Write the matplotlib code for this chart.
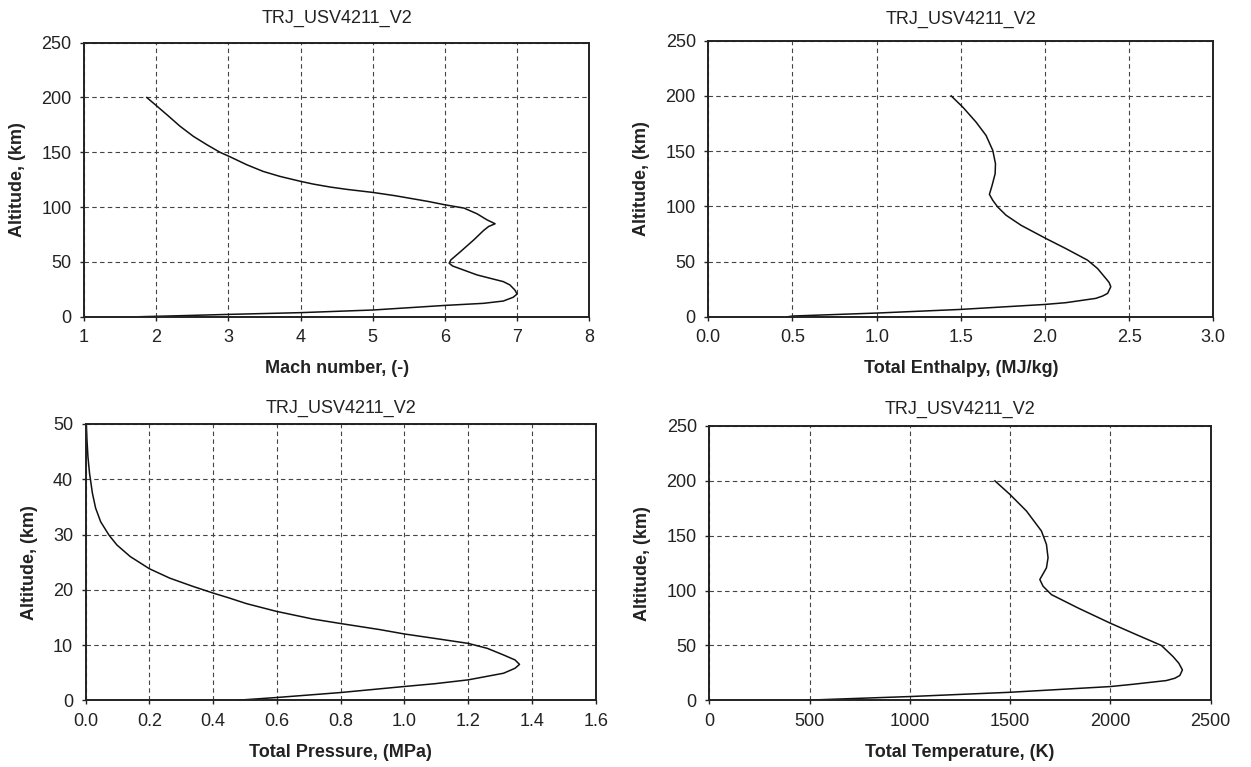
import matplotlib
matplotlib.use("Agg")
import matplotlib.pyplot as plt

plt.rcParams['font.family'] = ['Liberation Sans', 'DejaVu Sans']

title_text = "TRJ_USV4211_V2"
ylabel_text = "Altitude, (km)"

# Panel 1: Mach number vs altitude
mach_val = [1.87, 2.00, 2.145, 2.33, 2.514, 2.70, 2.884, 3.01, 3.253, 3.48, 3.715, 4.00, 4.176, 4.41,
            4.638, 5.00, 5.309, 5.764, 6.00, 6.264, 6.445, 6.582, 6.695, 6.605, 6.536, 6.40, 6.218,
            6.082, 6.059, 6.105, 6.445, 6.809, 6.90, 6.968, 7.00, 6.945, 6.809, 6.536, 6.00,
            5.00, 4.00, 3.00, 2.33, 1.78]
mach_alt = [200, 192.7, 184.5, 173.8, 164.6, 157, 150, 146.3, 138.7, 132.6, 128, 123.5, 121, 118.3,
            116.2, 113.4, 110.4, 105.2, 102.1, 99.1, 93.9, 88.4, 84.8, 82.3, 78.7, 70.1, 59.5,
            51.8, 48.8, 46.3, 38.1, 32.0, 29.0, 24.4, 20.7, 17.7, 14.3, 12.2, 10.3,
            6.1, 3.7, 2.1, 0.9, 0]

# Panel 2: Total enthalpy vs altitude
enth_val = [1.443, 1.512, 1.591, 1.650, 1.690, 1.706, 1.704, 1.686, 1.670, 1.690, 1.719, 1.769,
            1.858, 2.006, 2.124, 2.253, 2.312, 2.362, 2.381, 2.391, 2.372, 2.342, 2.302, 2.124, 2.000,
            1.500, 1.000, 0.500, 0.474]
enth_alt = [200, 189.8, 176.2, 164.2, 150.6, 138.6, 129.5, 119, 110.8, 105.4, 99.4, 91.9,
            82.8, 70.8, 61.7, 51.2, 43.7, 34.6, 31.0, 27.1, 21.1, 18.7, 16.6, 12.7, 11.1,
            6.6, 3.3, 0.6, 0]

# Panel 3: Total pressure vs altitude
pres_val = [0.002, 0.004, 0.007, 0.012, 0.021, 0.031, 0.047, 0.073, 0.098, 0.140, 0.200, 0.264,
            0.337, 0.400, 0.451, 0.504, 0.598, 0.713, 0.799, 0.922, 1.000, 1.095, 1.200, 1.260,
            1.311, 1.347, 1.361, 1.347, 1.311, 1.200, 1.095, 1.000, 0.799, 0.598, 0.473]
pres_alt = [50, 47.1, 44.1, 41.1, 37.5, 34.8, 32.3, 29.9, 28.1, 26.0, 23.8, 22.1,
            20.6, 19.4, 18.5, 17.5, 16.1, 14.7, 13.9, 12.8, 12.0, 11.2, 10.3, 9.4,
            8.2, 7.3, 6.5, 5.8, 4.9, 3.7, 3.0, 2.5, 1.4, 0.5, 0]

# Panel 4: Total temperature vs altitude
temp_val = [1424, 1498, 1581, 1656, 1681, 1689, 1681, 1664, 1648, 1664, 1706, 1839, 1998, 2130,
            2254, 2312, 2341, 2359, 2346, 2321, 2279, 2113, 1998, 1498, 998, 701, 468]
temp_alt = [200, 187.8, 172.6, 154.3, 142.1, 129.9, 120.7, 115.2, 110.1, 104, 96.3, 84.1, 70.4, 59.8,
            50, 39.9, 33.8, 27.7, 22.6, 20.1, 18, 14.6, 12.5, 7.3, 3.4, 1.5, 0]

panels = [
    dict(x=mach_val, y=mach_alt, xlabel="Mach number, (-)", xlim=(1, 8), xticks=[1, 2, 3, 4, 5, 6, 7, 8],
         xfmt="{:.0f}", ylim=(0, 250), yticks=[0, 50, 100, 150, 200, 250],
         rect=[84/1251, 1-316.7/767, 505.3/1251, 274/767], pad=14),
    dict(x=enth_val, y=enth_alt, xlabel="Total Enthalpy, (MJ/kg)", xlim=(0, 3), xticks=[0, 0.5, 1, 1.5, 2, 2.5, 3],
         xfmt="{:.1f}", ylim=(0, 250), yticks=[0, 50, 100, 150, 200, 250],
         rect=[708.3/1251, 1-316.7/767, 505/1251, 276/767], pad=12),
    dict(x=pres_val, y=pres_alt, xlabel="Total Pressure, (MPa)", xlim=(0, 1.6),
         xticks=[0, 0.2, 0.4, 0.6, 0.8, 1.0, 1.2, 1.4, 1.6],
         xfmt="{:.1f}", ylim=(0, 50), yticks=[0, 10, 20, 30, 40, 50],
         rect=[85.7/1251, 1-700.3/767, 510/1251, 276.3/767], pad=8),
    dict(x=temp_val, y=temp_alt, xlabel="Total Temperature, (K)", xlim=(0, 2500),
         xticks=[0, 500, 1000, 1500, 2000, 2500],
         xfmt="{:.0f}", ylim=(0, 250), yticks=[0, 50, 100, 150, 200, 250],
         rect=[709.3/1251, 1-700.3/767, 501.4/1251, 274.3/767], pad=9),
]

fig = plt.figure(figsize=(12.51, 7.67), dpi=100)
txt_color = '#222222'
for p in panels:
    ax = fig.add_axes(p['rect'])
    ax.plot(p['x'], p['y'], color='#111111', lw=1.1)
    ax.set_xlim(*p['xlim'])
    ax.set_ylim(*p['ylim'])
    ax.set_xticks(p['xticks'])
    ax.set_xticklabels([p['xfmt'].format(v) for v in p['xticks']])
    ax.set_yticks(p['yticks'])
    ax.grid(True, linestyle=(0, (4, 3)), color='#444444', lw=0.8)
    for s in ax.spines.values():
        s.set_linewidth(1.4)
        s.set_color('#222222')
    ax.tick_params(direction='out', length=3, width=1, pad=6, labelsize=13, labelcolor=txt_color,
                   color='#222222')
    ax.set_title(title_text, fontsize=13, color=txt_color, pad=p['pad'])
    ax.set_xlabel(p['xlabel'], fontsize=13, fontweight='bold', color=txt_color, labelpad=10)
    ax.set_ylabel(ylabel_text, fontsize=13, fontweight='bold', color=txt_color, labelpad=11)

fig.savefig("out.png", dpi=100)
